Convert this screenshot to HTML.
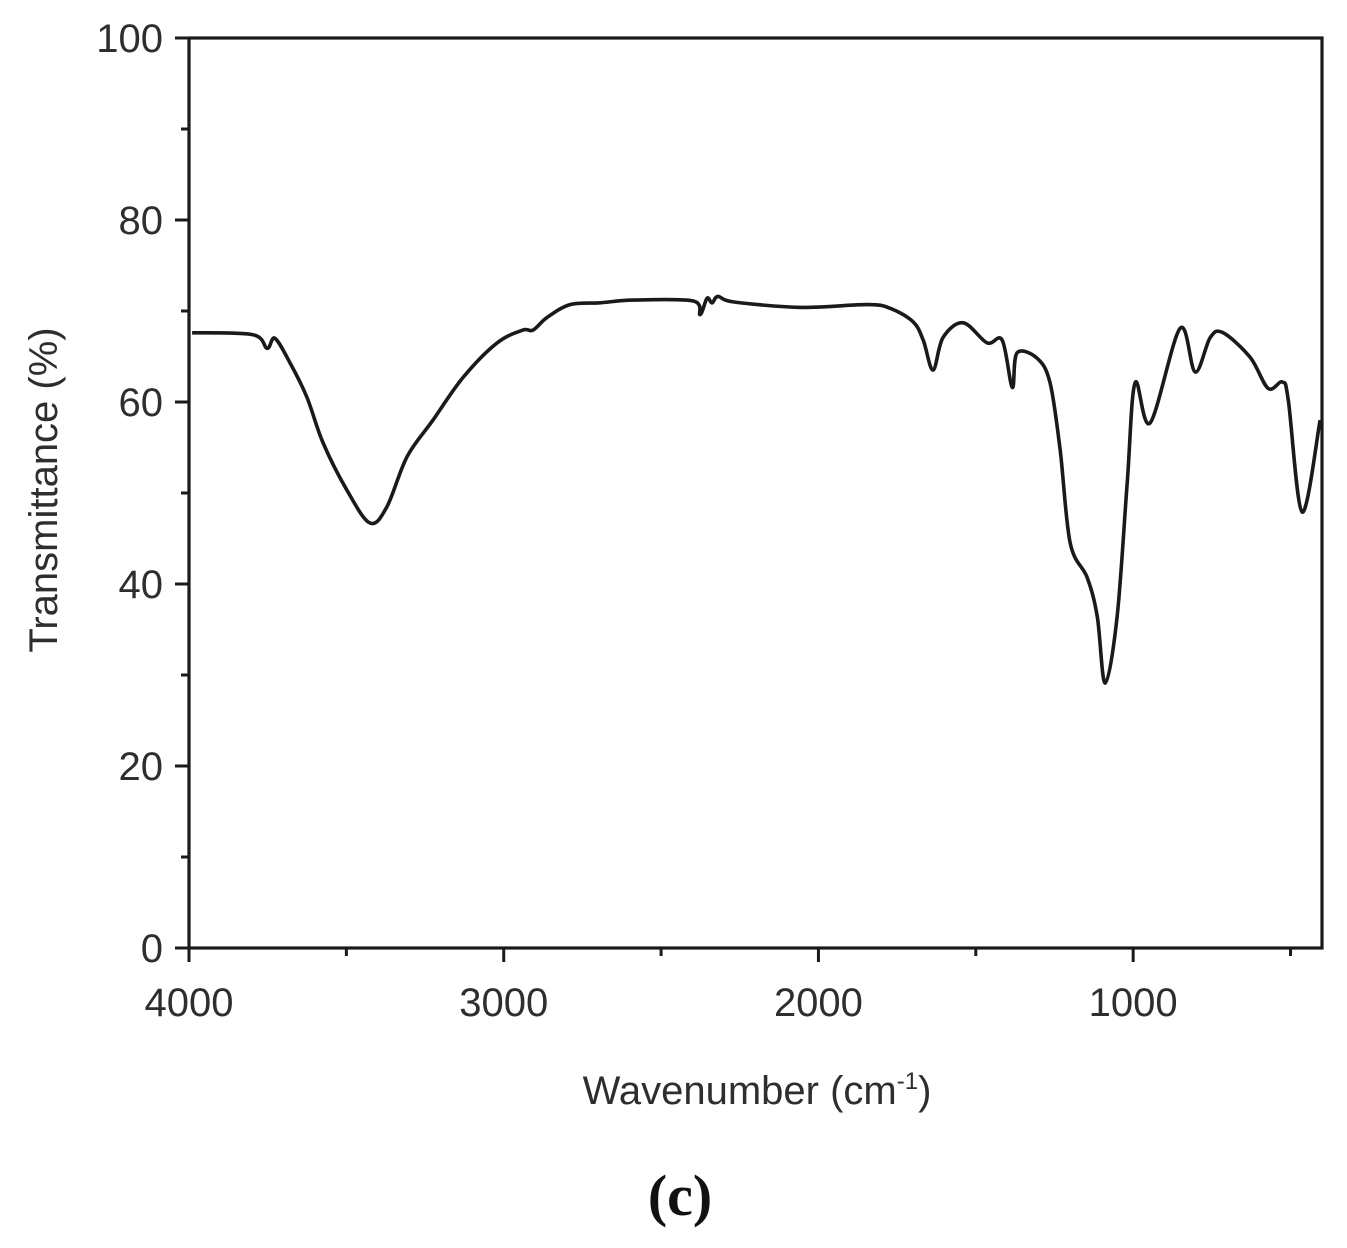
<!DOCTYPE html>
<html><head><meta charset="utf-8"><style>
html,body{margin:0;padding:0;background:#fff;}
svg{display:block;}
text{font-family:"Liberation Sans",sans-serif;fill:#2e2e2e;}
</style></head><body>
<svg id="chart" width="1347" height="1248" viewBox="0 0 1347 1248">
<g id="axes"></g>
<path id="curve" fill="none" stroke="#1a1a1a" stroke-width="3.6" stroke-linejoin="round"/>
<text x="757" y="1104" font-size="40" text-anchor="middle">Wavenumber (cm<tspan font-size="24" dy="-15">-1</tspan><tspan dy="15">)</tspan></text>
<text transform="translate(57,490) rotate(-90)" font-size="40" text-anchor="middle">Transmittance (%)</text>
<text x="680" y="1215" font-size="58" font-weight="bold" text-anchor="middle" style="font-family:'Liberation Serif',serif;fill:#111">(c)</text>
</svg>
<script>
const wavenumbers=[3990,3797,3752,3727,3679,3625,3574,3498,3425,3371,3307,3225,3129,3021,2939,2907,2862,2789,2694,2589,2398,2376,2354,2338,2319,2271,2058,1845,1772,1699,1667,1636,1604,1540,1464,1416,1384,1369,1305,1264,1232,1200,1146,1114,1089,1051,1019,994,946,851,803,755,714,628,571,526,507,463,406];
const transmittance=[67.6,67.4,65.9,67.0,64.3,60.5,55.5,50.3,46.7,48.5,54.0,58.0,62.7,66.5,67.9,67.9,69.3,70.7,70.9,71.2,71.1,69.6,71.4,70.9,71.6,71.0,70.4,70.7,70.3,68.8,66.8,63.5,67.1,68.7,66.5,66.8,61.6,65.4,64.8,62.1,54.7,44.5,40.7,36.4,29.1,36.4,51.1,62.1,57.7,68.1,63.3,67.1,67.6,64.9,61.5,62.2,60.2,47.9,58.0];
const xTicks=[4000,3000,2000,1000];
const xMinor=[3500,2500,1500,500];
const yTicks=[0,20,40,60,80,100];
const yMinor=[10,30,50,70,90];
const L=189,R=1322,T=38,B=948;
const X=v=>L+(4000-v)*(1133/3600);
const Y=v=>B-v*(B-T)/100;
const NS='http://www.w3.org/2000/svg';
const ax=document.getElementById('axes');
function mk(tag,attrs){const e=document.createElementNS(NS,tag);for(const k in attrs)e.setAttribute(k,attrs[k]);ax.appendChild(e);return e;}
const frame=mk('rect',{x:L,y:T,width:R-L,height:B-T,fill:'none',stroke:'#1a1a1a','stroke-width':3.2});


xTicks.forEach(v=>{
 const t=mk('line',{x1:X(v),x2:X(v),y1:B,y2:B+14,stroke:'#1a1a1a','stroke-width':3});
 
 
 const l=mk('text',{x:X(v),y:B+68,'font-size':40,'text-anchor':'middle'});
 l.textContent=v;
 
 
});
xMinor.forEach(v=>{
 const t=mk('line',{x1:X(v),x2:X(v),y1:B,y2:B+8,stroke:'#1a1a1a','stroke-width':3});
 
 
});
yTicks.forEach(v=>{
 const t=mk('line',{x1:L-14,x2:L,y1:Y(v),y2:Y(v),stroke:'#1a1a1a','stroke-width':3});
 
 
 const l=mk('text',{x:L-26,y:Y(v)+14,'font-size':40,'text-anchor':'end'});
 l.textContent=v;
 
 
});
yMinor.forEach(v=>{
 const t=mk('line',{x1:L-8,x2:L,y1:Y(v),y2:Y(v),stroke:'#1a1a1a','stroke-width':3});
 
 
});
const pts=wavenumbers.map((w,i)=>[X(w),Y(transmittance[i])]);
let d='M'+pts[0][0].toFixed(1)+','+pts[0][1].toFixed(1);
for(let i=0;i<pts.length-1;i++){
 const p0=pts[i-1]||pts[i],p1=pts[i],p2=pts[i+1],p3=pts[i+2]||p2;
 const c1=[p1[0]+(p2[0]-p0[0])/6,p1[1]+(p2[1]-p0[1])/6];
 const c2=[p2[0]-(p3[0]-p1[0])/6,p2[1]-(p3[1]-p1[1])/6];
 d+=`C${c1[0].toFixed(1)},${c1[1].toFixed(1)} ${c2[0].toFixed(1)},${c2[1].toFixed(1)} ${p2[0].toFixed(1)},${p2[1].toFixed(1)}`;
}
document.getElementById('curve').setAttribute('d',d);
</script>
</body></html>
